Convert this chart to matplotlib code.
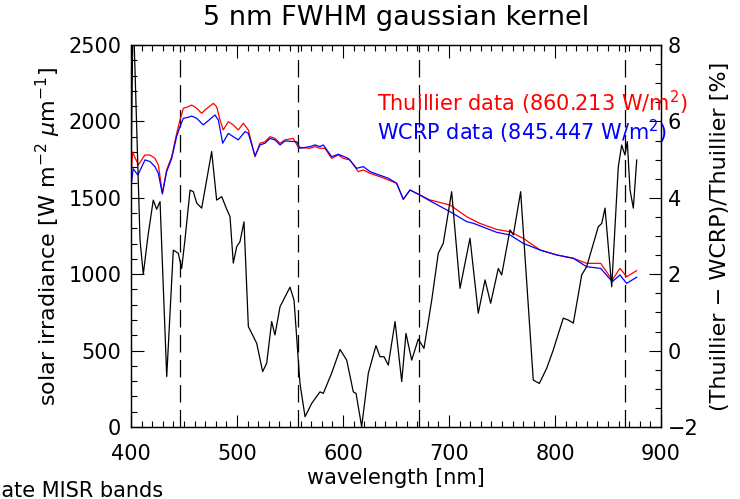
import matplotlib
matplotlib.use("Agg")
import matplotlib.pyplot as plt
from matplotlib.ticker import MultipleLocator

# ---- data ----
thuillier_wl = [400.0, 401.5, 404.0, 407.0, 413.0, 418.0, 422.6, 425.8, 429.6, 433.6, 438.4, 443.1,
                446.2, 449.4, 454.1, 457.2, 462.0, 466.7, 469.8, 477.7, 480.8, 484.0, 487.0, 491.8,
                496.5, 501.2, 506.0, 510.7, 517.0, 521.7, 526.4, 531.1, 535.8, 540.6, 545.3, 553.0,
                557.8, 568.9, 573.6, 578.3, 583.0, 589.3, 595.6, 600.3, 606.6, 614.4, 619.2, 625.5,
                634.9, 642.7, 650.6, 656.9, 663.2, 672.6, 682.0, 701.0, 716.7, 729.0, 745.0, 757.5,
                770.0, 786.0, 801.6, 817.3, 829.9, 843.1, 854.0, 861.3, 867.6, 877.0]
thuillier_irr = [1640, 1800, 1760, 1715, 1780, 1780, 1758, 1715, 1530, 1682, 1769, 1922,
                 2009, 2086, 2096, 2107, 2086, 2053, 2075, 2118, 2096, 2009, 1944, 1998,
                 1977, 1944, 1988, 1944, 1769, 1857, 1867, 1900, 1889, 1857, 1879, 1889,
                 1831, 1824, 1835, 1824, 1824, 1758, 1780, 1758, 1748, 1671, 1682, 1660,
                 1638, 1617, 1595, 1490, 1551, 1518, 1486, 1453, 1376, 1333, 1293, 1278,
                 1235, 1158, 1126, 1104, 1071, 1071, 962, 1038, 984, 1023]

wcrp_wl = [400.0, 402.0, 406.5, 413.2, 418.0, 422.6, 425.8, 429.6, 433.6, 438.4, 443.0, 446.2,
           449.4, 454.0, 457.2, 462.0, 468.2, 479.2, 482.4, 486.5, 491.8, 496.5, 501.2, 507.5,
           510.7, 517.0, 521.7, 526.4, 531.1, 535.8, 540.6, 545.3, 556.3, 559.4, 568.9, 573.6,
           578.3, 581.4, 589.3, 595.6, 605.0, 612.9, 619.2, 625.5, 642.7, 650.6, 656.9, 663.2,
           672.6, 682.0, 701.0, 716.7, 723.0, 745.0, 757.5, 770.0, 786.0, 801.6, 817.3, 829.9,
           843.1, 854.0, 861.3, 867.6, 877.0]
wcrp_irr = [1570, 1690, 1649, 1748, 1737, 1704, 1660, 1525, 1671, 1758, 1900, 1966,
            2020, 2027, 2035, 2020, 1977, 2042, 2009, 1857, 1922, 1900, 1879, 1933,
            1922, 1774, 1846, 1857, 1889, 1879, 1846, 1872, 1867, 1824, 1835, 1846,
            1835, 1846, 1769, 1785, 1758, 1693, 1704, 1671, 1628, 1595, 1490, 1551,
            1518, 1480, 1409, 1344, 1333, 1274, 1257, 1202, 1158, 1126, 1104, 1049,
            1038, 951, 995, 940, 980]

diff_wl = [400.0, 402.0, 408.5, 411.6, 416.0, 421.0, 424.2, 427.4, 433.7, 439.9, 444.6, 447.8,
           450.9, 455.7, 458.8, 462.0, 466.7, 476.1, 480.8, 485.6, 490.3, 493.4, 496.5, 499.7,
           502.8, 506.6, 510.7, 518.6, 524.2, 528.0, 532.7, 535.8, 540.6, 550.0, 553.8, 559.4,
           564.2, 570.5, 578.3, 581.4, 589.3, 597.2, 603.5, 609.7, 612.3, 617.6, 623.9, 631.1,
           634.9, 638.7, 642.7, 649.1, 655.4, 659.4, 664.8, 671.0, 676.4, 683.7, 689.9, 694.6,
           702.5, 710.4, 719.8, 727.6, 734.0, 739.3, 746.5, 749.7, 757.5, 760.7, 767.6, 779.5,
           785.2, 792.2, 798.4, 807.8, 812.5, 817.3, 825.2, 829.9, 840.8, 844.1, 847.2, 853.5,
           859.7, 862.9, 866.0, 868.2, 870.8, 873.9, 877.1]
diff_pct = [4.5, 9.0, 2.9, 2.0, 3.0, 3.94, 3.7, 3.90, -0.68, 2.63, 2.55, 2.15,
            2.9, 4.2, 4.16, 3.86, 3.73, 5.21, 3.94, 4.03, 3.70, 3.51, 2.29, 2.72,
            2.85, 3.37, 0.63, 0.19, -0.55, -0.33, 0.76, 0.41, 1.15, 1.66, 1.32, -0.86,
            -1.73, -1.38, -1.08, -1.12, -0.59, 0.03, -0.25, -1.08, -1.12, -1.99, -0.59, 0.13,
            -0.16, -0.16, -0.38, 0.76, -0.81, 0.45, -0.25, 0.30, 0.06, 1.32, 2.55, 2.81,
            4.16, 1.63, 2.94, 0.98, 1.85, 1.24, 2.15, 1.98, 3.16, 3.03, 4.16, -0.77,
            -0.86, -0.46, 0.02, 0.85, 0.80, 0.72, 1.98, 2.2, 3.24, 3.33, 3.73, 1.67,
            4.81, 5.38, 5.12, 5.47, 4.2, 3.73, 4.99]

misr_bands = [446.4, 557.5, 671.7, 866.4]

title = "5 nm FWHM gaussian kernel"
label_thuillier = r"Thuillier data (860.213 W/m$^2$)"
label_wcrp = r"WCRP data (845.447 W/m$^2$)"

# ---- figure ----
W, H = 740, 499
fig = plt.figure(figsize=(W / 100, H / 100), dpi=100)
plt.rcParams['font.family'] = ['DejaVu Sans']
plt.rcParams['mathtext.fontset'] = 'dejavusans'
fs = 15

L, R, T, B = 131, 661, 45, 427
ax = fig.add_axes([L / W, 1 - B / H, (R - L) / W, (B - T) / H])
ax2 = ax.twinx()

ax.plot(thuillier_wl, thuillier_irr, color='#ff0000', lw=0.9, zorder=3)
ax.plot(wcrp_wl, wcrp_irr, color='#0000ff', lw=0.9, zorder=3)
for b in misr_bands:
    ax.axvline(b, color='black', lw=0.9, dashes=(14, 6))
ax2.plot(diff_wl, diff_pct, color='black', lw=0.9)

ax.set_xlim(400, 900)
ax.set_ylim(0, 2500)
ax2.set_ylim(-2, 8)

ax.xaxis.set_major_locator(MultipleLocator(100))
ax.xaxis.set_minor_locator(MultipleLocator(10))
ax.yaxis.set_major_locator(MultipleLocator(500))
ax.yaxis.set_minor_locator(MultipleLocator(100))
ax2.yaxis.set_major_locator(MultipleLocator(2))
ax2.yaxis.set_minor_locator(MultipleLocator(0.5))

ax.tick_params(axis='x', which='both', direction='in', top=True, labelsize=fs, pad=12)
ax.tick_params(axis='x', which='major', length=9, width=0.8)
ax.tick_params(axis='x', which='minor', length=4, width=0.8)
ax.tick_params(axis='y', which='both', direction='in', right=False, labelsize=fs, pad=7)
ax.tick_params(axis='y', which='major', length=9, width=0.8)
ax.tick_params(axis='y', which='minor', length=4, width=0.8)
ax2.tick_params(axis='y', which='both', direction='in', labelsize=fs, pad=5)
ax2.tick_params(axis='y', which='major', length=9, width=0.8)
ax2.tick_params(axis='y', which='minor', length=4, width=0.8)

for a in (ax, ax2):
    for s in a.spines.values():
        s.set_linewidth(0.9)

ax.set_xlabel("wavelength [nm]", fontsize=fs, labelpad=3)
ax.set_ylabel(r"solar irradiance [W m$^{-2}$ $\mu$m$^{-1}$]", fontsize=16, labelpad=4)
ax2.set_ylabel("(Thuillier \u2212 WCRP)/Thuillier [%]", fontsize=16, labelpad=8)
fig.text(396 / W, 1 - 18 / H, title, fontsize=19.5, ha='center', va='center')

fig.text(377 / W, 1 - 103 / H, label_thuillier, color='#ff0000', fontsize=fs, ha='left', va='center')
fig.text(377 / W, 1 - 132 / H, label_wcrp, color='#0000ff', fontsize=fs, ha='left', va='center')

fig.text(163 / W, 1 - 497 / H, "Dashed lines indicate MISR bands", fontsize=fs, ha='right', va='baseline')

fig.savefig("out.png", dpi=100)
